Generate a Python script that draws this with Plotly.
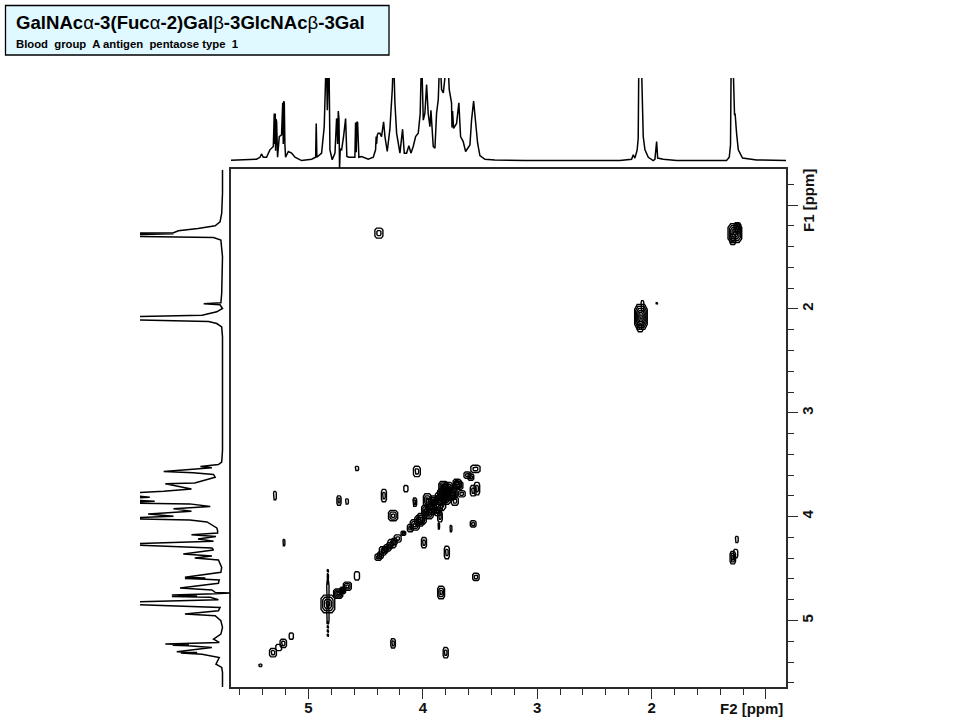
import plotly.graph_objects as go

# 1D projection on top (F2)
TOP_PPM = [5.73,5.497,5.453,5.424,5.409,5.395,5.366,5.337,5.307,5.299,5.295,5.29,5.287,5.283,5.278,5.274,5.270,5.255,5.235,5.225,5.220,5.216,5.211,5.206,5.200,5.176,5.147,5.118,5.060,4.972,4.937,4.932,4.926,4.885,4.862,4.850,4.844,4.835,4.821,4.812,4.792,4.768,4.754,4.750,4.745,4.739,4.733,4.728,4.722,4.710,4.693,4.675,4.664,4.646,4.594,4.588,4.582,4.576,4.570,4.559,4.535,4.477,4.433,4.413,4.408,4.404,4.398,4.39,4.375,4.361,4.343,4.331,4.311,4.288,4.267,4.256,4.25,4.244,4.229,4.200,4.177,4.162,4.142,4.122,4.104,4.084,4.063,4.040,4.023,4.011,3.996,3.982,3.967,3.953,3.938,3.929,3.909,3.894,3.880,3.865,3.851,3.836,3.821,3.807,3.784,3.769,3.749,3.745,3.74,3.731,3.705,3.685,3.670,3.647,3.626,3.588,3.574,3.556,3.539,3.521,3.501,3.457,3.370,3.107,2.277,2.175,2.160,2.146,2.126,2.117,2.111,2.091,2.073,2.058,2.029,1.986,1.971,1.956,1.947,1.898,1.781,1.345,1.321,1.310,1.304,1.290,1.275,1.270,1.257,1.242,1.205,1.082,0.82]
TOP_INT = [0,0.8,1.6,4,8,4,4,13,17,57,20,57,12,50,47,20,4,29,31,70,20,72,70,20,4,11,9,4,0,1.6,4,45,4,9,41,100,130,61,130,13,1,9,51,47,20,60,50,-10,14,13,29,51,5,4,4,46,10,47,46,4,5,1.6,4,13,29,20,31,33,33,29,47,29,11,38,86,130,100,70,33,9,38,9,9,18,9,17,29,33,57,130,49,57,92,57,41,61,17,15,57,74,130,86,82,130,130,86,70,40,60,39,45,70,29,23,11,19,49,72,49,21,6,1.6,0.8,0,0,1.6,7,3,13,27,130,130,29,13,4,0,1.6,23,3,1.6,0,0,4,19,130,130,55,57,33,13,3,0.8,0]

# 1D projection on the left (F1)
LEFT_PPM = [0.662,0.887,1.080,1.161,1.199,1.225,1.247,1.267,1.272,1.277,1.282,1.289,1.299,1.312,1.337,1.498,1.852,1.940,1.950,1.960,1.996,2.028,2.060,2.077,2.09,2.102,2.122,2.141,2.173,2.269,3.363,3.475,3.498,3.517,3.530,3.549,3.565,3.578,3.594,3.620,3.652,3.675,3.684,3.710,3.733,3.755,3.781,3.813,3.829,3.852,3.868,3.877,3.903,3.925,3.948,3.974,3.996,4.019,4.032,4.051,4.077,4.109,4.134,4.157,4.173,4.192,4.215,4.237,4.266,4.279,4.301,4.321,4.343,4.359,4.379,4.398,4.417,4.440,4.488,4.536,4.584,4.590,4.596,4.602,4.610,4.642,4.674,4.687,4.706,4.729,4.735,4.742,4.755,4.762,4.768,4.777,4.800,4.825,4.841,4.857,4.874,4.906,4.938,4.954,5.002,5.066,5.131,5.179,5.211,5.227,5.232,5.238,5.243,5.259,5.275,5.301,5.307,5.313,5.324,5.356,5.420,5.452,5.500,5.645]
LEFT_INT = [-1,-1,0,2,8,29,53,59,130,59,130,130,130,10,1,-1,0,1,22,2,-1,6,24,130,100,130,16,6,0,-1,-1,0,4,26,12,49,71,35,10,8,22,33,69,51,37,71,130,88,130,82,130,39,14,59,37,90,59,130,39,18,12,6,5,5,37,7,29,10,130,76,12,10,31,47,12,33,4,3,0,1,45,20,45,20,3,4,33,51,12,8,-10,8,61,30,61,14,4,130,130,67,2,4,45,8,1,-1,1,10,3,69,40,60,41,12,29,55,30,50,24,3,7,0,-1,-1]

# Cross peaks of the 2D map: centre, half-width and contour count
PEAK_F2 = [4.384,1.272,1.25,1.29,2.093,2.08,2.10,1.954,4.576,4.052,4.148,4.34,5.293,4.733,4.663,4.07,4.26,3.527,3.56,3.754,3.99,3.79,5.214,4.576,3.536,3.84,4.26,3.80,1.255,1.265,1.29,
           4.83,4.83,4.83,4.83,4.83,4.83,4.83,4.83,4.83,4.74,4.70,4.66,5.31,5.26,5.22,5.15,5.42,
           4.39,4.35,4.31,4.27,4.22,4.17,4.11,4.03,3.98,3.96,3.92,3.85,3.82,3.76,3.69,3.66,3.61,3.54,3.85,3.83,3.78,3.74,3.70,3.90,3.94,3.87,3.80,3.72,3.58,3.56,3.86,
           4.37,4.33,4.29,4.25,4.07,4.01,3.95,3.88,3.84,3.79]
PEAK_F1 = [1.27,1.27,1.22,1.33,2.077,1.97,2.17,1.945,3.536,3.565,3.73,3.797,3.797,3.845,3.854,3.86,3.99,3.73,4.07,4.115,4.25,4.345,4.25,4.57,4.58,4.73,5.22,5.31,4.22,4.355,4.395,
           4.84,4.74,4.95,5.02,5.06,5.10,5.14,4.52,4.60,4.74,4.71,4.67,5.31,5.26,5.22,5.15,5.43,
           4.39,4.33,4.30,4.26,4.21,4.16,4.11,4.04,3.94,3.84,3.93,3.87,3.72,3.78,3.70,3.78,3.60,3.54,4.00,3.78,3.72,3.78,3.68,3.84,3.88,3.95,3.83,3.85,3.62,3.75,4.09,
           4.37,4.32,4.28,4.24,4.08,4.02,3.97,3.90,3.82,3.74]
PEAK_W2 = [0.035,0.06,0.03,0.025,0.055,0.012,0.025,0.006,0.014,0.03,0.018,0.022,0.012,0.018,0.012,0.016,0.04,0.024,0.025,0.008,0.022,0.022,0.008,0.022,0.028,0.03,0.02,0.022,0.012,0.018,0.024,
           0.06,0.01,0.01,0.005,0.005,0.005,0.005,0.005,0.005,0.04,0.025,0.035,0.03,0.025,0.028,0.018,0.012,
           0.028,0.03,0.03,0.035,0.03,0.02,0.025,0.04,0.03,0.035,0.04,0.05,0.04,0.05,0.04,0.03,0.03,0.04,0.02,0.04,0.04,0.04,0.035,0.035,0.03,0.03,0.04,0.03,0.025,0.025,0.006,
           0.025,0.025,0.025,0.025,0.04,0.04,0.04,0.05,0.05,0.05]
PEAK_W1 = [0.048,0.09,0.05,0.05,0.12,0.05,0.05,0.008,0.02,0.05,0.03,0.06,0.04,0.045,0.025,0.04,0.05,0.06,0.03,0.03,0.05,0.06,0.03,0.04,0.035,0.06,0.045,0.05,0.03,0.04,0.06,
           0.085,0.12,0.08,0.012,0.012,0.012,0.012,0.012,0.05,0.045,0.03,0.04,0.04,0.03,0.04,0.03,0.012,
           0.03,0.04,0.03,0.04,0.035,0.02,0.035,0.05,0.05,0.06,0.05,0.07,0.06,0.06,0.04,0.03,0.03,0.035,0.05,0.05,0.05,0.05,0.04,0.04,0.05,0.04,0.05,0.04,0.03,0.05,0.03,
           0.03,0.03,0.03,0.03,0.05,0.05,0.05,0.06,0.06,0.05]
PEAK_LEVELS = [2,5,3,2,6,1,2,1,1,2,1,2,1,2,1,2,3,2,2,1,2,2,1,1,2,3,2,2,1,1,3,
               4,1,1,1,1,1,1,1,1,4,3,3,2,1,2,1,1,
               2,2,2,2,2,2,2,3,3,3,3,3,4,4,3,2,2,2,2,3,3,3,3,3,2,2,3,2,2,2,1,
               2,2,2,2,3,3,3,3,3,3]

X_MAJOR = [1, 2, 3, 4, 5]
X_LABELS = ["", "<b>2</b>", "<b>3</b>", "<b>4</b>", "<b>5</b>"]
Y_MAJOR = [1, 2, 3, 4, 5]
Y_LABELS = ["", "<b>2</b>", "<b>3</b>", "<b>4</b>", "<b>5</b>"]

X_RANGE = [5.677, 0.825]
Y_RANGE = [5.64, 0.648]
W, H = 960, 720
FONT = "Liberation Sans"
AXIS = "#2b2b2b"


def contour_paths():
    xs, ys = [], []
    for f2, f1, w2, w1, n in zip(PEAK_F2, PEAK_F1, PEAK_W2, PEAK_W1, PEAK_LEVELS):
        for k in range(n):
            s = 1 - k / n
            a, b = w2 * s, w1 * s
            ca, cb = a * 0.6, b * 0.6
            xs += [f2 - ca, f2 + ca, f2 + a, f2 + a, f2 + ca, f2 - ca, f2 - a, f2 - a, f2 - ca, None]
            ys += [f1 - b, f1 - b, f1 - cb, f1 + cb, f1 + b, f1 + b, f1 + cb, f1 - cb, f1 - b, None]
    return xs, ys


fig = go.Figure()
cx, cy = contour_paths()
fig.add_trace(go.Scatter(x=cx, y=cy, mode="lines", line=dict(color="black", width=1.4),
                         xaxis="x", yaxis="y", showlegend=False, hoverinfo="skip"))
fig.add_trace(go.Scatter(x=TOP_PPM, y=TOP_INT, mode="lines", line=dict(color="black", width=1.5),
                         xaxis="x2", yaxis="y2", showlegend=False, hoverinfo="skip"))
fig.add_trace(go.Scatter(x=LEFT_INT, y=LEFT_PPM, mode="lines", line=dict(color="black", width=1.5),
                         xaxis="x3", yaxis="y3", showlegend=False, hoverinfo="skip"))

tickfont = dict(family=FONT, size=15, color="#111111")
fig.update_layout(
    width=W, height=H, autosize=False, margin=dict(l=0, r=0, t=0, b=0),
    paper_bgcolor="white", plot_bgcolor="white", showlegend=False,
    xaxis=dict(domain=[231 / W, 786 / W], range=X_RANGE, anchor="y", side="bottom",
               tickmode="array", tickvals=X_MAJOR, ticktext=X_LABELS, ticks="outside", ticklen=10,
               tickwidth=1.3, tickcolor=AXIS, tickfont=tickfont, showgrid=False, zeroline=False,
               showline=True, linecolor=AXIS, linewidth=1.6, mirror=True, ticklabelstandoff=-4,
               minor=dict(tick0=1, dtick=0.2, ticks="outside", ticklen=6, tickwidth=1.3,
                          tickcolor=AXIS, showgrid=False)),
    yaxis=dict(domain=[(H - 687) / H, (H - 168.5) / H], range=Y_RANGE, anchor="x", side="right",
               tickmode="array", tickvals=Y_MAJOR, ticktext=Y_LABELS, tickangle=-90, ticks="outside",
               ticklen=10, tickwidth=1.3, tickcolor=AXIS, tickfont=tickfont, showgrid=False,
               zeroline=False, showline=True, linecolor=AXIS, linewidth=1.6, mirror=True,
               ticklabelstandoff=-3,
               minor=dict(tick0=1, dtick=0.2, ticks="outside", ticklen=6, tickwidth=1.3,
                          tickcolor=AXIS, showgrid=False)),
    xaxis2=dict(domain=[231 / W, 786 / W], range=X_RANGE, anchor="y2", visible=False),
    yaxis2=dict(domain=[(H - 168) / H, (H - 78) / H], range=[-9, 100], anchor="x2", visible=False),
    xaxis3=dict(domain=[140 / W, 231 / W], range=[100, -11.4], anchor="y3", visible=False),
    yaxis3=dict(domain=[(H - 687) / H, (H - 168.5) / H], range=Y_RANGE, anchor="x3", visible=False),
    shapes=[dict(type="rect", xref="paper", yref="paper", x0=5.5 / W, x1=389 / W,
                 y0=(H - 55) / H, y1=(H - 5.5) / H, fillcolor="#E0F8FF",
                 line=dict(color="black", width=1.3), layer="below")],
    annotations=[
        dict(xref="paper", yref="paper", x=14 / W, y=(H - 22) / H, xanchor="left", yanchor="middle",
             showarrow=False, font=dict(family=FONT, size=18.6, color="black"),
             text="<b>GalNAc</b>α<b>-3(Fuc</b>α<b>-2)Gal</b>β<b>-3GlcNAc</b>β<b>-3Gal</b>"),
        dict(xref="paper", yref="paper", x=14 / W, y=(H - 43.5) / H, xanchor="left", yanchor="middle",
             showarrow=False, font=dict(family=FONT, size=11.3, color="black"),
             text="<b>Blood  group  A antigen  pentaose type  1</b>"),
        dict(xref="paper", yref="paper", x=751 / W, y=(H - 708) / H, xanchor="center", yanchor="middle",
             showarrow=False, font=dict(family=FONT, size=15, color="#111111"), text="<b>F2 [ppm]</b>"),
        dict(xref="paper", yref="paper", x=808 / W, y=(H - 201) / H, xanchor="center", yanchor="middle",
             showarrow=False, textangle=-90, font=dict(family=FONT, size=15, color="#111111"),
             text="<b>F1 [ppm]</b>"),
    ],
)

fig.write_html("out.html", config={"displayModeBar": False},
               post_script="document.body.style.margin='0';document.body.style.overflow='hidden';")
